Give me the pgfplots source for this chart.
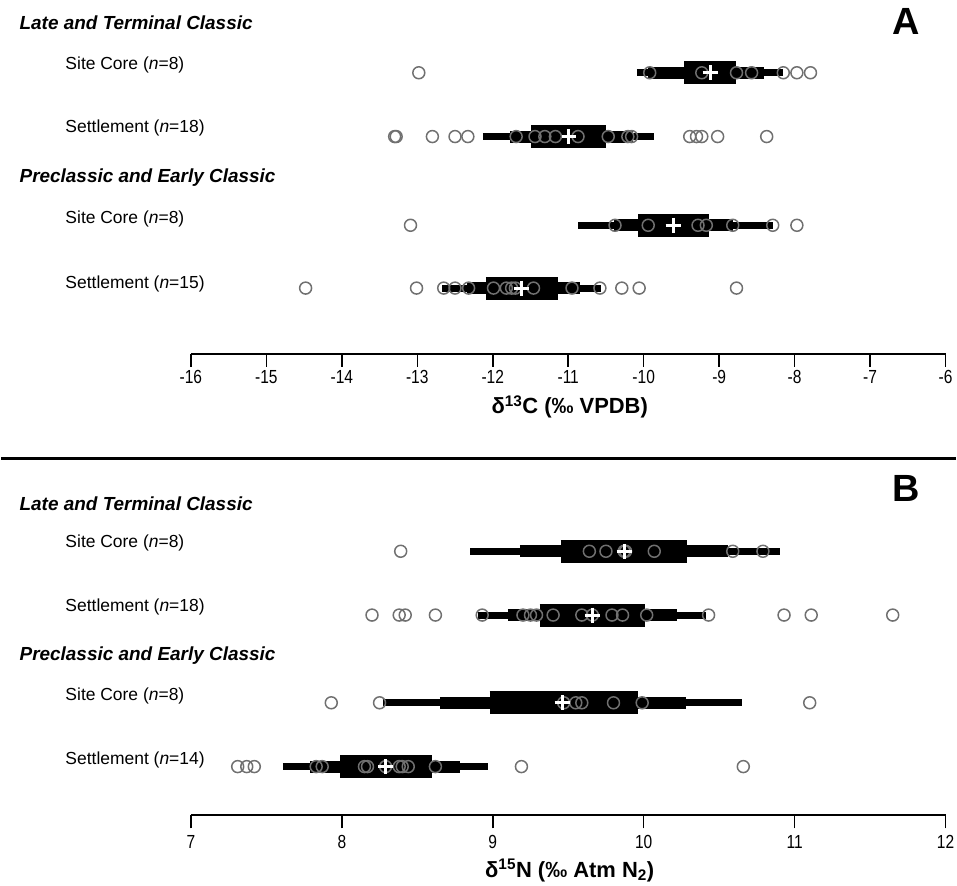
\documentclass[border=0pt]{standalone}
\usepackage{pgfplots}
\pgfplotsset{compat=1.18}
\usepackage{fontspec}
\setmainfont{Liberation Sans}
\newfontfamily\narrow[FakeStretch=0.82]{Liberation Sans}
\definecolor{circ}{HTML}{707070}
\pgfplotsset{
  panel/.style={scale only axis, width=757pt, height=340pt, ymin=0, ymax=340,
    axis x line*=bottom, axis y line=none, clip=false,
    axis line style={line width=2pt, black},
    major tick length=13pt, tick align=outside,
    tick style={line width=1.6pt, black},
    xticklabel style={font=\narrow\fontsize{19}{21}\selectfont, anchor=north, text height=13.5pt, text depth=0pt, inner sep=0pt, yshift=-6pt},
  },
  thin/.style={black, line width=7pt, line cap=butt, mark=none},
  mid/.style={black, line width=12pt, line cap=butt, mark=none},
  box/.style={black, line width=23pt, line cap=butt, mark=none},
  pts/.style={only marks, mark=o, mark size=6pt, mark options={draw=circ, line width=1.5pt}},
  mn/.style={only marks, mark=+, mark size=7.5pt, mark options={draw=white, line width=3pt}},
}
\begin{document}
\begin{tikzpicture}
\path (0,0) rectangle (957pt,888pt);
% ---------------- Panel A ----------------
\begin{axis}[panel, at={(190pt,533pt)}, anchor=south west,
  xmin=-16, xmax=-6, xtick={-16,-15,...,-6},
  xticklabels={-16,-15,-14,-13,-12,-11,-10,-9,-8,-7,-6},
  xticklabel style={yshift=3pt}]
% Site Core LTC
\addplot[thin] coordinates {(-10.09,282) (-8.15,282)};
\addplot[mid] coordinates {(-9.94,282) (-8.40,282)};
\addplot[box] coordinates {(-9.46,282) (-8.78,282)};
\addplot[pts] coordinates {(-12.98,282) (-9.92,282) (-9.23,282) (-8.77,282) (-8.57,282) (-8.15,282) (-7.97,282) (-7.79,282)};
\addplot[mn] coordinates {(-9.12,282)};
% Settlement LTC
\addplot[thin] coordinates {(-12.13,218) (-9.87,218)};
\addplot[mid] coordinates {(-11.77,218) (-10.14,218)};
\addplot[box] coordinates {(-11.49,218) (-10.50,218)};
\addplot[pts] coordinates {(-13.30,218) (-13.28,218) (-12.80,218) (-12.50,218) (-12.33,218) (-11.69,218) (-11.44,218) (-11.31,218) (-11.17,218) (-10.87,218) (-10.47,218) (-10.21,218) (-10.16,218) (-9.39,218) (-9.30,218) (-9.23,218) (-9.02,218) (-8.37,218)};
\addplot[mn] coordinates {(-10.99,218)};
% Site Core PEC
\addplot[thin] coordinates {(-10.87,129) (-8.29,129)};
\addplot[mid] coordinates {(-10.40,129) (-8.82,129)};
\addplot[box] coordinates {(-10.07,129) (-9.14,129)};
\addplot[pts] coordinates {(-13.09,129) (-10.38,129) (-9.94,129) (-9.28,129) (-9.17,129) (-8.82,129) (-8.29,129) (-7.97,129)};
\addplot[mn] coordinates {(-9.61,129)};
% Settlement PEC
\addplot[thin] coordinates {(-12.67,66) (-10.56,66)};
\addplot[mid] coordinates {(-12.34,66) (-10.84,66)};
\addplot[box] coordinates {(-12.09,66) (-11.14,66)};
\addplot[pts] coordinates {(-14.48,66) (-13.01,66) (-12.65,66) (-12.50,66) (-12.32,66) (-11.99,66) (-11.82,66) (-11.75,66) (-11.70,66) (-11.46,66) (-10.95,66) (-10.58,66) (-10.29,66) (-10.06,66) (-8.77,66)};
\addplot[mn] coordinates {(-11.62,66)};
\end{axis}
% ---------------- Panel B ----------------
\begin{axis}[panel, at={(190pt,70pt)}, anchor=south west,
  xmin=7, xmax=12, xtick={7,8,...,12},
  xticklabels={7,8,9,10,11,12}]
% Site Core LTC
\addplot[thin] coordinates {(8.85,265) (10.90,265)};
\addplot[mid] coordinates {(9.18,265) (10.56,265)};
\addplot[box] coordinates {(9.45,265) (10.29,265)};
\addplot[pts] coordinates {(8.39,265) (9.64,265) (9.75,265) (9.87,265) (9.88,265) (10.07,265) (10.59,265) (10.79,265)};
\addplot[mn] coordinates {(9.87,265)};
% Settlement LTC
\addplot[thin] coordinates {(8.90,201) (10.41,201)};
\addplot[mid] coordinates {(9.10,201) (10.22,201)};
\addplot[box] coordinates {(9.31,201) (10.01,201)};
\addplot[pts] coordinates {(8.20,201) (8.38,201) (8.42,201) (8.62,201) (8.93,201) (9.20,201) (9.25,201) (9.29,201) (9.40,201) (9.59,201) (9.66,201) (9.79,201) (9.86,201) (10.02,201) (10.43,201) (10.93,201) (11.11,201) (11.65,201)};
\addplot[mn] coordinates {(9.66,201)};
% Site Core PEC
\addplot[thin] coordinates {(8.27,113) (10.65,113)};
\addplot[mid] coordinates {(8.65,113) (10.28,113)};
\addplot[box] coordinates {(8.98,113) (9.96,113)};
\addplot[pts] coordinates {(7.93,113) (8.25,113) (9.47,113) (9.55,113) (9.59,113) (9.80,113) (9.99,113) (11.10,113)};
\addplot[mn] coordinates {(9.46,113)};
% Settlement PEC
\addplot[thin] coordinates {(7.61,49) (8.97,49)};
\addplot[mid] coordinates {(7.79,49) (8.78,49)};
\addplot[box] coordinates {(7.99,49) (8.60,49)};
\addplot[pts] coordinates {(7.31,49) (7.37,49) (7.42,49) (7.83,49) (7.87,49) (8.15,49) (8.17,49) (8.29,49) (8.38,49) (8.40,49) (8.44,49) (8.62,49) (9.19,49) (10.66,49)};
\addplot[mn] coordinates {(8.29,49)};
\end{axis}
% ---------------- Text ----------------
\draw[line width=3pt] (0,428pt) -- (957pt,428pt);
\node[font=\bfseries\fontsize{38}{40}\selectfont] at (908pt,866pt) {A};
\node[font=\bfseries\fontsize{38}{40}\selectfont] at (908pt,398pt) {B};
\begin{scope}[every node/.style={anchor=west, inner sep=0pt}]
\node[font=\bfseries\itshape\fontsize{19}{22}\selectfont] at (18pt,865pt) {Late and Terminal Classic};
\node[font=\fontsize{17.5}{20}\selectfont] at (64pt,823pt) {Site Core (\textit{n}=8)};
\node[font=\fontsize{17.5}{20}\selectfont] at (64pt,760pt) {Settlement (\textit{n}=18)};
\node[font=\bfseries\itshape\fontsize{19}{22}\selectfont] at (18pt,710pt) {Preclassic and Early Classic};
\node[font=\fontsize{17.5}{20}\selectfont] at (64pt,668pt) {Site Core (\textit{n}=8)};
\node[font=\fontsize{17.5}{20}\selectfont] at (64pt,603pt) {Settlement (\textit{n}=15)};
\node[font=\bfseries\itshape\fontsize{19}{22}\selectfont] at (18pt,383pt) {Late and Terminal Classic};
\node[font=\fontsize{17.5}{20}\selectfont] at (64pt,343pt) {Site Core (\textit{n}=8)};
\node[font=\fontsize{17.5}{20}\selectfont] at (64pt,279pt) {Settlement (\textit{n}=18)};
\node[font=\bfseries\itshape\fontsize{19}{22}\selectfont] at (18pt,230pt) {Preclassic and Early Classic};
\node[font=\fontsize{17.5}{20}\selectfont] at (64pt,190pt) {Site Core (\textit{n}=8)};
\node[font=\fontsize{17.5}{20}\selectfont] at (64pt,126pt) {Settlement (\textit{n}=14)};
\end{scope}
\node[anchor=base, font=\bfseries\fontsize{22}{24}\selectfont] at (570pt,473pt) {δ\textsuperscript{13}C (‰ VPDB)};
\node[anchor=base, font=\bfseries\fontsize{22}{24}\selectfont] at (570pt,8pt) {δ\textsuperscript{15}N (‰ Atm N\textsubscript{2})};
\end{tikzpicture}
\end{document}
